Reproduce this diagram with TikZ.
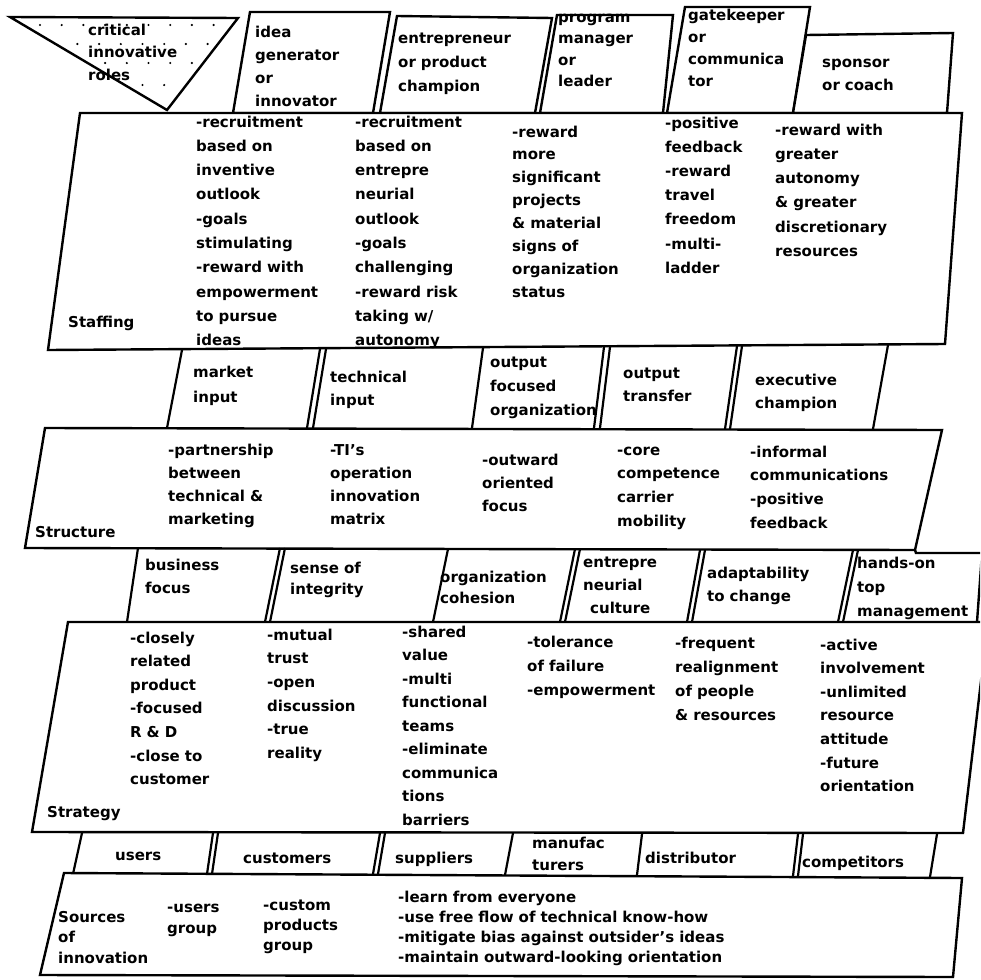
\documentclass[tikz,border=0pt]{standalone}
\usepackage{fontspec}
\setmainfont{DejaVu Sans}
\begin{document}
\begin{tikzpicture}[x=1pt,y=-1pt,
  frame/.style={line width=2.4pt, line join=miter, fill=white},
  sep/.style={line width=2.2pt, line cap=butt},
  lbl/.style={anchor=base west, inner sep=0pt, text width=420pt, align=left,
              font=\bfseries\fontsize{15}{#1}\selectfont},
  lbl/.default=23.5]
\useasboundingbox (0,0) rectangle (980,980);
\clip (0,0) rectangle (980,980);

% ---------- top row: the critical innovative roles ----------
\draw[frame] (10,17) -- (238,18) -- (167,110) -- cycle;
\begin{scope}
  \clip (16,20) -- (232,21) -- (167,104) -- cycle;
  \foreach \yy/\xo in {25/40, 44/34, 63/40, 85/34}
    \foreach \i in {0,...,9}
      \fill (\xo+\i*21.7,\yy) circle (1.2);
\end{scope}
\node[lbl=22.5] (roles) at (88,35) {critical\\innovative\\roles};

\draw[frame] (250,12) -- (390,12) -- (373,113) -- (233,113) -- cycle;
\node[lbl=23] (idea) at (255,37) {idea\\generator\\or\\innovator};

\draw[frame] (397,16) -- (552,18) -- (535,113) -- (380,113) -- cycle;
\node[lbl=24] (entre) at (398,43) {entrepreneur\\or product\\champion};

\draw[frame] (557,15) -- (673,15) -- (663,113) -- (540,113) -- cycle;
\node[lbl=21.5] (prog) at (558,22) {program\\manager\\or\\leader};

\draw[frame] (685,7) -- (810,7) -- (793,113) -- (667,113) -- cycle;
\node[lbl=22] (gate) at (688,20) {gatekeeper\\or\\communica\\tor};

\draw[frame] (806,35) -- (953,33) -- (947,113) -- (793,113) -- cycle;
\node[lbl=23] (spons) at (822,67) {sponsor\\or coach};

% ---------- staffing band ----------
\draw[frame] (80,113) -- (962,113) -- (945,344) -- (48,350) -- cycle;
\node[lbl] (staffing) at (68,327) {Staffing};
\node[lbl=24.3] (st1) at (196,127) {-recruitment\\based on\\inventive\\outlook\\-goals\\stimulating\\-reward with\\empowerment\\to pursue\\ideas};
\node[lbl=24.3] (st2) at (355,127) {-recruitment\\based on\\entrepre\\neurial\\outlook\\-goals\\challenging\\-reward risk\\taking w/\\autonomy};
\node[lbl=22.9] (st3) at (512,137) {-reward\\more\\significant\\projects\\\& material\\signs of\\organization\\status};
\node[lbl=24.2] (st4) at (665,128) {-positive\\feedback\\-reward\\travel\\freedom\\-multi-\\ladder};
\node[lbl=24.3] (st5) at (775,135) {-reward with\\greater\\autonomy\\\& greater\\discretionary\\resources};

% ---------- links between staffing and structure ----------
\draw[sep] (182,350) -- (167,428);
\draw[sep] (320,349) -- (307,428);
\draw[sep] (326,349) -- (313,428);
\draw[sep] (483,348) -- (472,428);
\draw[sep] (604,347) -- (594,428);
\draw[sep] (610,347) -- (600,428);
\draw[sep] (737,346) -- (725,429);
\draw[sep] (742,346) -- (730,429);
\draw[sep] (888,345) -- (873,429);
\node[lbl=25] (mkt) at (193,377) {market\\input};
\node[lbl=23.3] (tech) at (330,382) {technical\\input};
\node[lbl=24] (outf) at (490,367) {output\\focused\\organization};
\node[lbl=23.3] (outt) at (623,378) {output\\transfer};
\node[lbl=23.3] (exec) at (755,385) {executive\\champion};

% ---------- structure band ----------
\draw[frame] (45,428) -- (942,430) -- (915,550) -- (25,548) -- cycle;
\node[lbl] (structure) at (35,537) {Structure};
\node[lbl=23.3] (sr1) at (168,455) {-partnership\\between\\technical \&\\marketing};
\node[lbl=23.3] (sr2) at (330,455) {-TI's\\operation\\innovation\\matrix};
\node[lbl=23.3] (sr3) at (482,465) {-outward\\oriented\\focus};
\node[lbl=23.9] (sr4) at (617,455) {-core\\competence\\carrier\\mobility};
\node[lbl=23.9] (sr5) at (750,457) {-informal\\communications\\-positive\\feedback};

% ---------- links between structure and strategy ----------
\draw[sep] (138,548) -- (127,622);
\draw[sep] (280,548) -- (265,622);
\draw[sep] (285,548) -- (270,622);
\draw[sep] (448,549) -- (433,622);
\draw[sep] (575,549) -- (560,622);
\draw[sep] (580,549) -- (565,622);
\draw[sep] (700,550) -- (687,622);
\draw[sep] (705,550) -- (692,622);
\draw[sep] (853,550) -- (838,622);
\draw[sep] (858,550) -- (843,622);
\draw[frame, fill=none] (915,550) -- (916,553) -- (982,553) -- (977,622);
\node[lbl=23.3] (busi) at (145,570) {business\\focus};
\node[lbl=21.7] (sense) at (290,573) {sense of\\integrity};
\node[lbl=21.7] (cohes) at (440,582) {organization\\cohesion};
\node[lbl=23.3] (entcul) at (583,567) {entrepre\\neurial\\\hspace*{7pt}culture};
\node[lbl=23.3] (adapt) at (707,578) {adaptability\\to change};
\node[lbl=24] (hands) at (857,568) {hands-on\\top\\management};

% ---------- strategy band ----------
\draw[frame] (68,622) -- (988,622) -- (963,833) -- (32,832) -- cycle;
\node[lbl] (strategy) at (47,817) {Strategy};
\node[lbl=23.6] (sg1) at (130,643) {-closely\\related\\product\\-focused\\R \& D\\-close to\\customer};
\node[lbl=23.7] (sg2) at (267,640) {-mutual\\trust\\-open\\discussion\\-true\\reality};
\node[lbl=23.5] (sg3) at (402,637) {-shared\\value\\-multi\\functional\\teams\\-eliminate\\communica\\tions\\barriers};
\node[lbl=24] (sg4) at (527,647) {-tolerance\\of failure\\-empowerment};
\node[lbl=24] (sg5) at (675,648) {-frequent\\realignment\\of people\\\& resources};
\node[lbl=23.6] (sg6) at (820,650) {-active\\involvement\\-unlimited\\resource\\attitude\\-future\\orientation};

% ---------- links between strategy and sources ----------
\draw[sep] (82,833) -- (73,874);
\draw[sep] (213,833) -- (207,874);
\draw[sep] (218,833) -- (212,874);
\draw[sep] (380,833) -- (373,874);
\draw[sep] (385,833) -- (378,874);
\draw[sep] (513,833) -- (505,875);
\draw[sep] (642,834) -- (637,875);
\draw[sep] (798,834) -- (793,876);
\draw[sep] (803,834) -- (798,876);
\draw[sep] (937,834) -- (930,877);
\node[lbl] (users) at (115,860) {users};
\node[lbl] (cust) at (243,863) {customers};
\node[lbl] (suppl) at (395,863) {suppliers};
\node[lbl=22] (manuf) at (532,848) {manufac\\turers};
\node[lbl] (distr) at (645,863) {distributor};
\node[lbl] (compet) at (802,867) {competitors};

% ---------- sources of innovation band ----------
\draw[frame] (64,873) -- (962,878) -- (953,977) -- (40,975) -- cycle;
\node[lbl=20.5] (sources) at (58,922) {Sources\\of\\innovation};
\node[lbl=21] (ugroup) at (167,912) {-users\\group};
\node[lbl=20] (cgroup) at (263,910) {-custom\\products\\group};
\node[lbl=20] (learn) at (398,902) {-learn from everyone\\-use free flow of technical know-how\\-mitigate bias against outsider's ideas\\-maintain outward-looking orientation};
\end{tikzpicture}
\end{document}
